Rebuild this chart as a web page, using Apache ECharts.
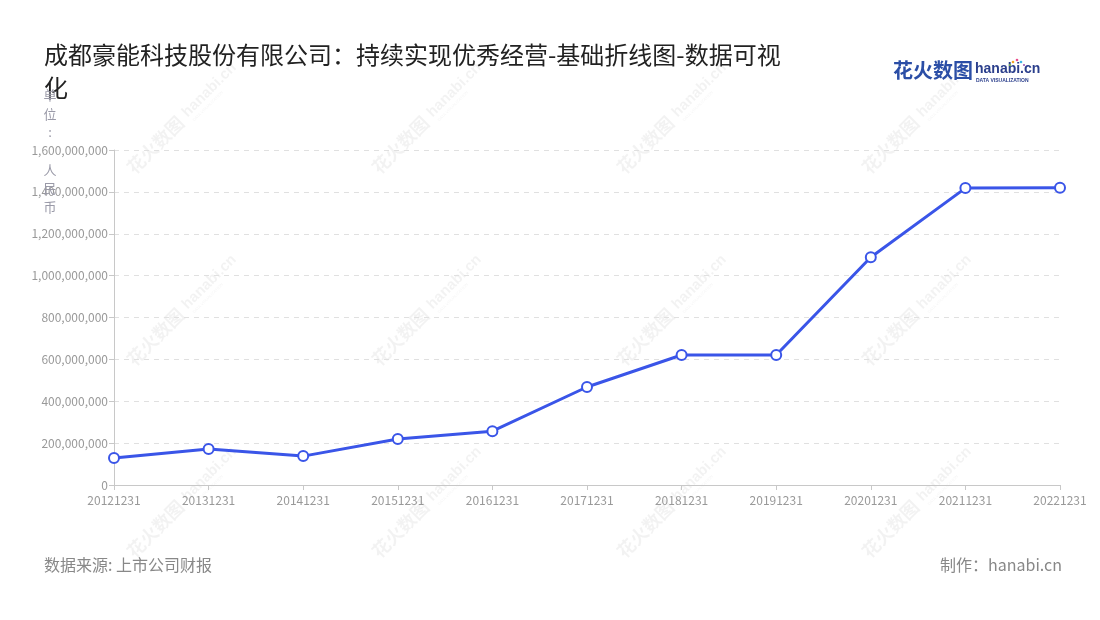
<!DOCTYPE html>
<html>
<head>
<meta charset="utf-8">
<script src="https://cdn.jsdelivr.net/npm/echarts@6/dist/echarts.min.js"></script>
<style>
html,body{margin:0;padding:0;background:#fff;}
#chart{width:1100px;height:620px;}
</style>
</head>
<body>
<div id="chart"></div>
<script>
var categories = ['20121231','20131231','20141231','20151231','20161231','20171231','20181231','20191231','20201231','20211231','20221231'];
var values = [129000000, 172000000, 138000000, 220000000, 257000000, 468000000, 621000000, 621000000, 1088000000, 1418000000, 1420000000];
var yTicks = [0, 200000000, 400000000, 600000000, 800000000, 1000000000, 1200000000, 1400000000, 1600000000];

var titleText = '成都豪能科技股份有限公司：持续实现优秀经营-基础折线图-数据可视化';
var yName = '单位: 人民币';
var sourceText = '数据来源: 上市公司财报';
var makerText = '制作：hanabi.cn';

var FONT = '"Noto Sans CJK SC","Noto Sans",sans-serif';

function fmt(v){ return String(v).replace(/\B(?=(\d{3})+(?!\d))/g, ','); }

// watermark tiles
var wm = [];
var cols = [185, 430, 675, 920];
var rows = [118, 310, 502];
var WM = 'rgba(0,0,0,0.05)';
rows.forEach(function(cy){
  cols.forEach(function(cx){
    wm.push({
      type:'group', x:cx, y:cy, rotation:Math.PI/4, silent:true, z:0,
      children:[
        {type:'text', x:-76, y:-11, style:{text:'花火数图', font:'bold 18px '+FONT, fill:WM}},
        {type:'text', x:2, y:-10, style:{text:'hanabi.cn', font:'bold 15px "Liberation Sans",sans-serif', fill:WM}},
        {type:'text', x:4, y:6, style:{text:'DATA VISUALIZATION', font:'4px "Liberation Sans",sans-serif', fill:WM}}
      ]
    });
  });
});

var chart = echarts.init(document.getElementById('chart'), null, {renderer:'canvas'});
chart.setOption({
  backgroundColor:'#fff',
  animation:false,
  title:{
    text:titleText,
    left:39, top:33,
    textStyle:{fontFamily:FONT, fontSize:24, fontWeight:'normal', color:'#222', width:745, overflow:'break', lineHeight:33}
  },
  grid:{left:114, right:40, top:150, bottom:135, containLabel:false, outerBoundsMode:'none'},
  xAxis:{
    type:'category',
    data:categories,
    boundaryGap:false,
    axisLine:{lineStyle:{color:'#c8c8c8', width:1}},
    axisTick:{show:true, lineStyle:{color:'#c8c8c8'}},
    axisLabel:{color:'#999', fontSize:12, fontFamily:FONT, margin:9, interval:0},
    splitLine:{show:false}
  },
  yAxis:{
    type:'value',
    min:0, max:1600000000, interval:200000000,
    axisLine:{show:true, lineStyle:{color:'#c8c8c8', width:1}},
    axisTick:{show:true, lineStyle:{color:'#c8c8c8'}},
    axisLabel:{color:'#999', fontSize:12, fontFamily:FONT, margin:6, formatter:function(v){return fmt(v);}},
    splitLine:{show:true, lineStyle:{color:'#e0e0e0', type:[5,5]}}
  },
  series:[{
    type:'line',
    data:values,
    symbol:'circle',
    symbolSize:10,
    showAllSymbol:true,
    lineStyle:{color:'#3a55e8', width:3},
    itemStyle:{color:'#fff', borderColor:'#3a55e8', borderWidth:2},
    z:5
  }],
  graphic:wm.concat([
    {type:'text', x:50, y:151, z:10, style:{text:yName.split('').join('\n'), font:'13px '+FONT, fill:'#9a9aa8', lineHeight:18.7, align:'center', verticalAlign:'middle'}},
    {type:'text', left:893, top:60, style:{text:'花火数图', font:'bold 20px '+FONT, fill:'#2b4ea6'}},
    {type:'text', left:975, top:62, style:{text:'hanabi.cn', font:'bold 14px "Liberation Sans",sans-serif', fill:'#2b3f8c'}},
    {type:'text', left:976, top:78, style:{text:'DATA VISUALIZATION', font:'bold 5px "Liberation Sans",sans-serif', fill:'#2b3f8c'}},
    {type:'circle', shape:{cx:1013, cy:62, r:1.3}, style:{fill:'#f5a623'}},
    {type:'circle', shape:{cx:1017, cy:60, r:1.3}, style:{fill:'#e94b8a'}},
    {type:'circle', shape:{cx:1021, cy:62, r:1.3}, style:{fill:'#3fb8e6'}},
    {type:'circle', shape:{cx:1010, cy:65, r:1.1}, style:{fill:'#7ac143'}},
    {type:'circle', shape:{cx:1024, cy:65, r:1.1}, style:{fill:'#9b59b6'}},
    {type:'text', left:44, top:557, style:{text:sourceText, font:'16px '+FONT, fill:'#888'}},
    {type:'text', right:38, top:557, style:{text:makerText, font:'16px '+FONT, fill:'#888'}}
  ])
});
</script>
</body>
</html>
